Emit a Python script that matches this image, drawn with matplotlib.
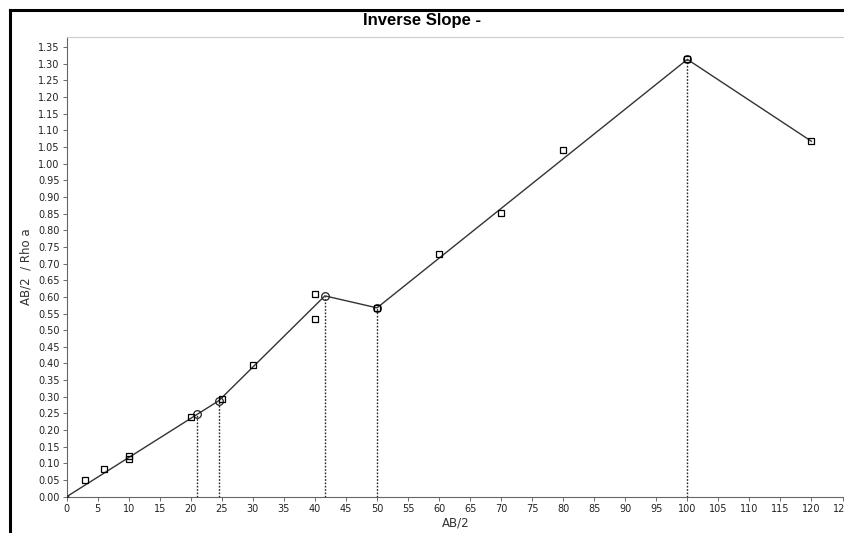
import matplotlib
matplotlib.use('Agg')
import matplotlib.pyplot as plt
from matplotlib.lines import Line2D

# measured points (open squares)
obs_x = [3, 6, 10, 10, 20, 25, 30, 40, 40, 50, 60, 70, 80, 100, 120]
obs_y = [0.050, 0.083, 0.122, 0.112, 0.239, 0.294, 0.395, 0.610, 0.534,
         0.567, 0.729, 0.853, 1.041, 1.313, 1.067]

# fitted inverse-slope line segments
fit_x = [0, 21, 24.5, 41.6, 50, 100, 120]
fit_y = [0.0, 0.247, 0.288, 0.603, 0.567, 1.313, 1.067]

# breakpoints marked with circles and dotted drop lines
brk_x = [21, 24.5, 41.6, 50, 100]
brk_y = [0.247, 0.288, 0.603, 0.567, 1.313]

x_ticks = list(range(0, 130, 5))
y_ticks = [i * 0.05 for i in range(28)]

fig = plt.figure(figsize=(8.45, 5.33), dpi=100)
ax = fig.add_axes([0.0789, 0.0681, 0.9211, 0.863])

ax.plot(fit_x, fit_y, color='#333333', lw=1.0, zorder=3)
for bx, by in zip(brk_x, brk_y):
    ax.plot([bx, bx], [0, by], color='#222222', lw=1.0, ls=(0, (1.2, 1.2)), zorder=2)
ax.plot(brk_x, brk_y, 'o', mfc='none', mec='#222222', ms=5.5, mew=0.9, zorder=4)
ax.plot(obs_x, obs_y, 's', mfc='none', mec='black', ms=5, mew=0.9, zorder=5)
ax.plot([0], [0], 'o', color='#333333', ms=2, zorder=4)

ax.set_xlim(0, 125.4)
ax.set_ylim(0, 1.381)
ax.set_xticks(x_ticks)
ax.set_yticks(y_ticks)
ax.set_yticklabels([f'{v:.2f}' for v in y_ticks])
ax.tick_params(labelsize=7, colors='#555555', labelcolor='#222222',
               length=3, width=0.6, pad=2)

for s in ['left', 'bottom']:
    ax.spines[s].set_color('#666666')
    ax.spines[s].set_linewidth(0.8)
ax.spines['top'].set_color('#cccccc')
ax.spines['right'].set_visible(False)

ax.set_xlabel('AB/2', fontsize=8.5, color='#333333', labelpad=2)
ax.set_ylabel('AB/2  / Rho a', fontsize=8.5, color='#333333', labelpad=4)
fig.text(0.5, 0.962, 'Inverse Slope -', ha='center', va='center',
         fontsize=12, fontweight='bold', family='Liberation Sans')

# outer black frame (left and top edges visible)
fig.add_artist(Line2D([0.0118, 0.0118], [0.0, 0.981], color='black', lw=2.2))
fig.add_artist(Line2D([0.0118, 1.0], [0.981, 0.981], color='black', lw=2.2))

fig.savefig('out.png', dpi=100)
